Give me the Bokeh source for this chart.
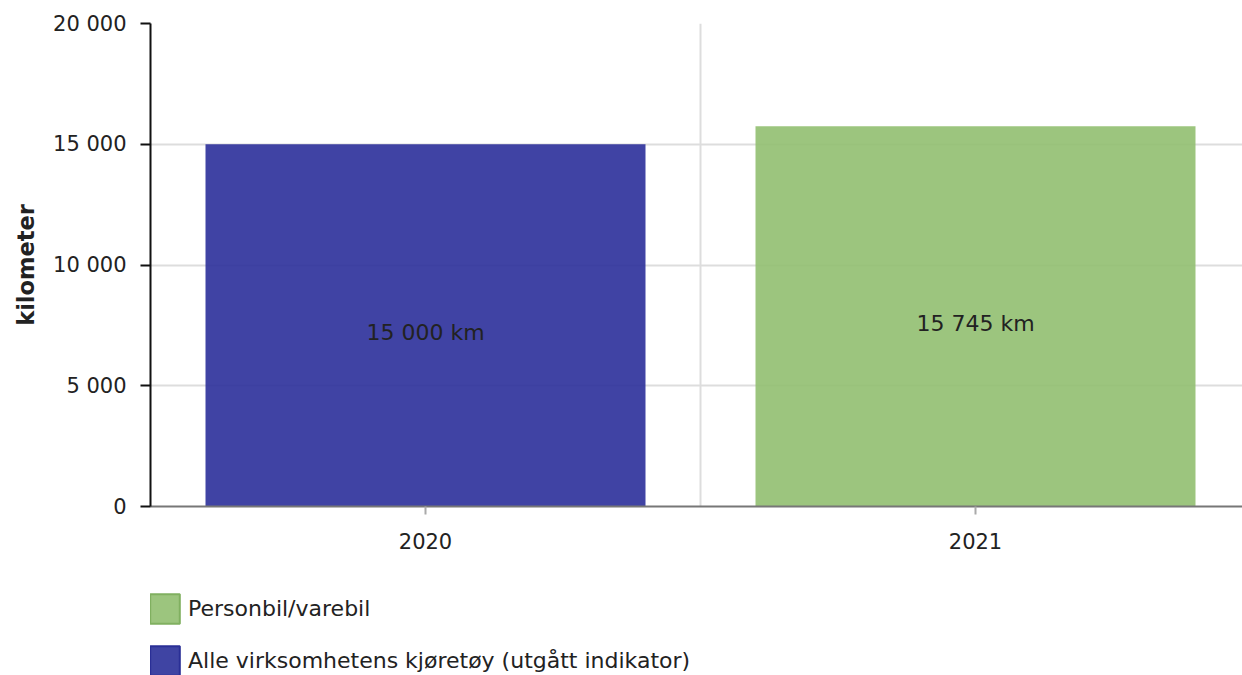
from bokeh.plotting import figure
from bokeh.layouts import column
from bokeh.models import (Range1d, FixedTicker, Legend, LegendItem, ColumnDataSource)
from bokeh.core.properties import value
from bokeh.embed import file_html
from bokeh.resources import INLINE

# ---- data ----
categories = ["2020", "2021"]
alle_values = [15000, None]          # Alle virksomhetens kjøretøy (utgått indikator)
personbil_values = [None, 15745]     # Personbil/varebil
series_names = ["Personbil/varebil", "Alle virksomhetens kjøretøy (utgått indikator)"]
y_ticks = [0, 5000, 10000, 15000, 20000]
y_label = "kilometer"
unit = "km"

FONT = "DejaVu Sans"
TXT = "#222222"
FS = "21px"
FS2 = "22px"

def fmt(v):
    return f"{v:,}".replace(",", " ")

p = figure(width=1242, height=560, output_backend="svg", toolbar_location=None,
           x_range=Range1d(-0.5, -0.5 + 1092 / 550), y_range=Range1d(0, 20000),
           min_border_left=150, min_border_right=0, min_border_top=23, min_border_bottom=54)
p.outline_line_color = None

blue_fill = "#2b2f9a"
green_fill = "#91bf70"

def bars(vals, color):
    xs = [i for i, v in enumerate(vals) if v is not None]
    ys = [v for v in vals if v is not None]
    src = ColumnDataSource(dict(x=xs, top=ys, mid=[v / 2 for v in ys],
                                lab=[f"{fmt(v)} {unit}" for v in ys]))
    p.vbar(x="x", top="top", width=0.8, bottom=0, source=src, fill_color=color,
           fill_alpha=0.9, line_color=None)
    p.text(x="x", y="mid", text="lab", source=src, text_align="center",
           text_baseline="middle", y_offset=7, text_font=value(FONT),
           text_font_size=FS2, text_color=TXT)

bars(alle_values, blue_fill)
bars(personbil_values, green_fill)

# y axis
p.yaxis.ticker = FixedTicker(ticks=y_ticks)
p.yaxis.major_label_overrides = {t: fmt(t) for t in y_ticks}
p.yaxis.minor_tick_line_color = None
p.yaxis.major_tick_out = 10
p.yaxis.major_tick_in = 0
p.yaxis.major_tick_line_color = "#111111"
p.yaxis.major_tick_line_width = 2
p.yaxis.axis_line_color = "#111111"
p.yaxis.axis_line_width = 2
p.yaxis.major_label_standoff = 14
p.yaxis.major_label_text_font = FONT
p.yaxis.major_label_text_font_size = FS
p.yaxis.major_label_text_color = TXT
p.yaxis.axis_label = y_label
p.yaxis.axis_label_text_font = FONT
p.yaxis.axis_label_text_font_style = "bold"
p.yaxis.axis_label_text_font_size = "22.5px"
p.yaxis.axis_label_text_color = TXT
p.yaxis.axis_label_standoff = 11

# x axis
p.xaxis.ticker = FixedTicker(ticks=list(range(len(categories))))
p.xaxis.major_label_overrides = {i: c for i, c in enumerate(categories)}
p.xaxis.minor_tick_line_color = None
p.xaxis.major_tick_out = 8
p.xaxis.major_tick_in = 0
p.xaxis.major_tick_line_color = "#aaaaaa"
p.xaxis.major_tick_line_width = 2
p.xaxis.axis_line_color = "#777777"
p.xaxis.axis_line_width = 2
p.xaxis.major_label_standoff = 18
p.xaxis.major_label_text_font = FONT
p.xaxis.major_label_text_font_size = FS
p.xaxis.major_label_text_color = TXT

# grids
p.ygrid.ticker = FixedTicker(ticks=y_ticks)
p.ygrid.grid_line_color = "#dddddd"
p.ygrid.grid_line_width = 2
p.xgrid.ticker = FixedTicker(ticks=[(len(categories) - 1) / 2])
p.xgrid.grid_line_color = "#dddddd"
p.xgrid.grid_line_width = 2

# ---- legend figure below ----
p2 = figure(width=1242, height=115, output_backend="svg", toolbar_location=None,
            x_axis_type=None, y_axis_type=None, x_range=Range1d(0, 1), y_range=Range1d(0, 1),
            min_border_left=0, min_border_right=0, min_border_top=0, min_border_bottom=0)
p2.outline_line_color = None
p2.grid.visible = False
dummy = ColumnDataSource(dict(x=[-10], top=[-10]))
lg_green = p2.vbar(x="x", top="top", width=0.8, source=dummy, fill_color="#9cc57e",
                   line_color="#80b060", line_width=2)
lg_blue = p2.vbar(x="x", top="top", width=0.8, source=dummy, fill_color="#3f44a3",
                  line_color="#2a2f96", line_width=2)
legend = Legend(items=[LegendItem(label=series_names[0], renderers=[lg_green]),
                       LegendItem(label=series_names[1], renderers=[lg_blue])],
                location=(-4, -4), orientation="vertical",
                glyph_width=37, glyph_height=37, spacing=15, label_standoff=5,
                padding=0, margin=0, border_line_alpha=0, background_fill_alpha=0,
                label_text_font=FONT, label_text_font_size=FS2, label_text_color=TXT)
p2.add_layout(legend, "center")

open("out.html", "w").write(file_html(column(p, p2, spacing=0), INLINE))
